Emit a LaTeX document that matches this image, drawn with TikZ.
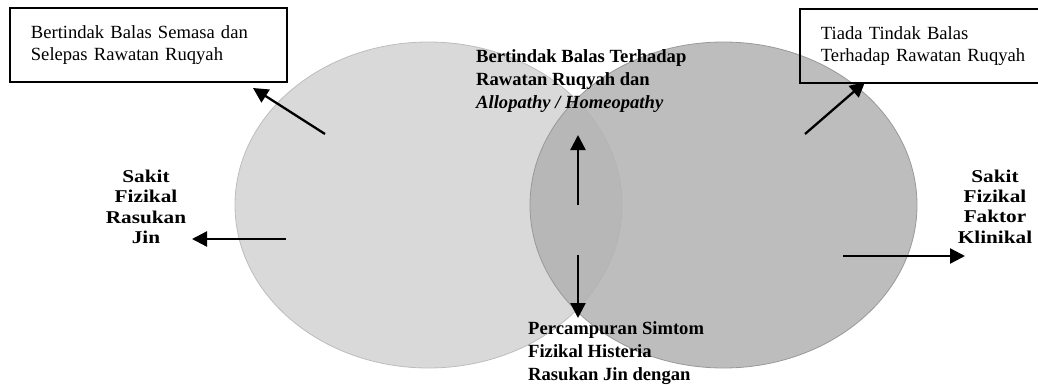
\documentclass[tikz,border=0pt]{standalone}
\usepackage{fontspec}
\setmainfont{Liberation Serif}
\newfontfamily\wideserif[FakeStretch=1.18]{Liberation Serif}
\usetikzlibrary{arrows.meta}

\definecolor{leftgray}{gray}{0.85}
\definecolor{leftline}{gray}{0.74}
\definecolor{rightgray}{gray}{0.70}
\definecolor{rightline}{gray}{0.60}

\begin{document}
\begin{tikzpicture}[x=1pt,y=-1pt,
  txt/.style={font=\fontsize{18.6}{22.4}\selectfont, inner sep=0pt, align=left},
  boldtxt/.style={txt, font=\bfseries\fontsize{18.6}{22.9}\selectfont, anchor=north west},
  sidetxt/.style={font=\wideserif\bfseries\fontsize{18}{20.3}\selectfont, inner sep=0pt, align=center, anchor=north},
  boxtxt/.style={txt, draw, line width=1.8pt, anchor=north west, minimum height=74pt, inner xsep=21pt, text width=#1},
  arr/.style={line width=2.3pt, -{Triangle[length=15pt,width=15pt]}}]
\useasboundingbox (0,0) rectangle (1038,385);

\filldraw[fill=leftgray, draw=leftline, line width=0.8pt] (428.5,205) ellipse [x radius=193.5, y radius=163];
\filldraw[fill=rightgray, fill opacity=0.85, draw=rightline, line width=0.8pt] (723.5,205) ellipse [x radius=193.5, y radius=163];

 \node[boxtxt=235pt] at (9,7) (semasa) {Bertindak Balas Semasa dan\\Selepas Rawatan Ruqyah};
 \node[boxtxt=215pt] at (799,8) (tiada) {Tiada Tindak Balas\\Terhadap Rawatan Ruqyah};

 \node[boldtxt] at (476,49.4) (kedua) {Bertindak Balas Terhadap\\Rawatan Ruqyah dan\\\textit{Allopathy / Homeopathy}};
 \node[boldtxt] at (528,321.5) (campur) {Percampuran Simtom\\Fizikal Histeria\\Rasukan Jin dengan};

 \node[sidetxt] at (146,170) (jin) {Sakit\\Fizikal\\Rasukan\\Jin};
 \node[sidetxt] at (995,169.5) (klinikal) {Sakit\\Fizikal\\Faktor\\Klinikal};

% arrow ends
\coordinate (ul) at (325,134);  \coordinate (ultip) at (253,88);
\coordinate (ur) at (805,134);  \coordinate (urtip) at (865,82);
\coordinate (lt) at (286,239);  \coordinate (lttip) at (192,239);
\coordinate (rt) at (843,256);  \coordinate (rttip) at (965,256);
\coordinate (up) at (578,205);  \coordinate (uptip) at (578,135);
\coordinate (dn) at (578,255);  \coordinate (dntip) at (578,318);

\draw[arr] (ul)--(ultip);
\draw[arr] (ur)--(urtip);
\draw[arr] (lt)--(lttip);
\draw[arr] (rt)--(rttip);
\draw[arr] (up)--(uptip);
\draw[arr] (dn)--(dntip);

\end{tikzpicture}
\end{document}
